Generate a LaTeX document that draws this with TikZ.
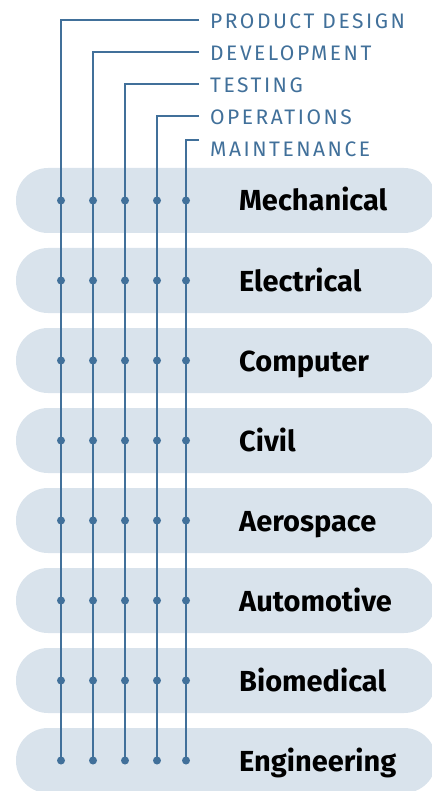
\documentclass[tikz,border=0pt]{standalone}
\usepackage{fontspec}
\setmainfont{Fira Sans}
\newfontfamily\phasefont[LetterSpace=12]{Fira Sans}
\usepackage{tikz}
\usetikzlibrary{calc}

\definecolor{wirecol}{HTML}{41709A}
\definecolor{barcol}{HTML}{D9E3EC}

\tikzset{
  bar/.style={fill=barcol, rounded corners=32pt, minimum width=420pt,
    minimum height=65pt, inner sep=0pt},
  field/.style={anchor=base west, font=\bfseries\fontsize{29}{32}\selectfont,
    inner sep=0pt},
  phase/.style={anchor=base west, text=wirecol, inner sep=0pt,
    font=\phasefont\fontsize{21}{24}\selectfont},
  wire/.style={draw=wirecol, line width=1.4pt},
  dot/.style={circle, fill=wirecol, minimum size=8pt, inner sep=0pt}
}

\begin{document}
\begin{tikzpicture}[x=1pt,y=-1pt]
  \useasboundingbox (0,0) rectangle (431,791);
  % rows
  \foreach \name [count=\i from 0] in
    {Mechanical,Electrical,Computer,Civil,Aerospace,Automotive,Biomedical,Engineering}{
    \node[bar] (row\i) at (226,200.5+80*\i) {};
    \node[field] (field\i) at (239,211+80*\i) {\name};
  }
  % phases
  \foreach \x/\ytop/\ybase/\txt [count=\j] in
    {61/20/29/PRODUCT DESIGN,93/52/61/DEVELOPMENT,125/84/93/TESTING,
     157/116/125/OPERATIONS,186/140/157/MAINTENANCE}{
    \node[phase] (phase\j) at (210,\ybase) {\txt};
    \coordinate (end\j) at (199,\ytop);
    \foreach \i in {0,...,7}
      \node[dot] (dot\j-\i) at (\x,200.5+80*\i) {};
    \draw[wire] (end\j) -| (dot\j-7.center);
  }
\end{tikzpicture}
\end{document}
